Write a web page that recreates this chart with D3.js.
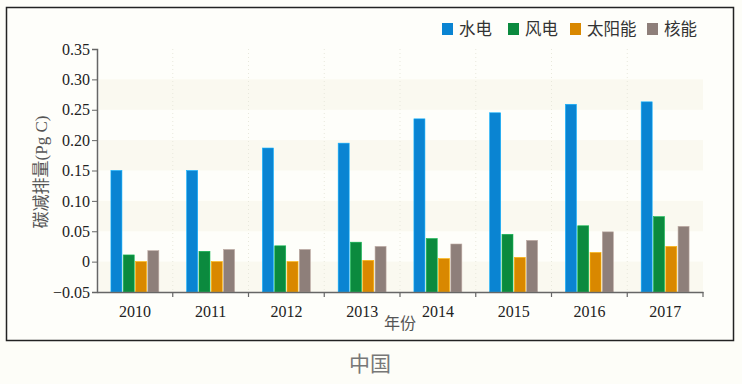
<!DOCTYPE html>
<html>
<head>
<meta charset="utf-8">
<script src="https://cdn.jsdelivr.net/npm/d3@7"></script>
<style>
  body { margin: 0; background: #fdfdf8; }
  svg { display: block; }
</style>
</head>
<body>
<div id="chart"></div>
<script>
// data
var years = ["2010", "2011", "2012", "2013", "2014", "2015", "2016", "2017"];
var seriesNames = ["水电", "风电", "太阳能", "核能"];
var hydro = [0.150, 0.150, 0.187, 0.195, 0.235, 0.245, 0.259, 0.263];
var wind = [0.011, 0.017, 0.026, 0.032, 0.038, 0.045, 0.059, 0.074];
var solar = [0.000, 0.000, 0.000, 0.002, 0.005, 0.007, 0.015, 0.025];
var nuclear = [0.018, 0.020, 0.020, 0.025, 0.029, 0.035, 0.049, 0.058];
var yTicks = [-0.05, 0, 0.05, 0.10, 0.15, 0.20, 0.25, 0.30, 0.35];
var colors = ["#0a84d2", "#0b8a3e", "#d98800", "#8e7f7a"];

var width = 742, height = 384;
var plotLeft = 97, plotRight = 703, plotTop = 49, plotBottom = 292;

var svg = d3.select("#chart").append("svg")
    .attr("width", width)
    .attr("height", height);

svg.append("rect")
    .attr("width", width).attr("height", height)
    .attr("fill", "#fdfdf8");

// outer frame
svg.append("rect")
    .attr("x", 6.5).attr("y", 7.5)
    .attr("width", 727).attr("height", 333)
    .attr("fill", "#fefefa")
    .attr("stroke", "#222")
    .attr("stroke-width", 1.5);

var x = d3.scaleBand()
    .domain(years)
    .range([plotLeft, plotRight])
    .paddingInner(0)
    .paddingOuter(0);

var y = d3.scaleLinear()
    .domain([-0.05, 0.35])
    .range([plotBottom, plotTop]);

// faint alternating bands
var bands = [[0.25, 0.30], [0.15, 0.20], [0.05, 0.10], [-0.05, 0]];
svg.selectAll("rect.band")
    .data(bands)
    .enter()
    .append("rect")
    .attr("class", "band")
    .attr("x", plotLeft + 2)
    .attr("width", plotRight - plotLeft - 2)
    .attr("y", function(d) { return y(d[1]); })
    .attr("height", function(d) { return y(d[0]) - y(d[1]); })
    .attr("fill", "#faf9f0");

// faint dotted vertical lines
svg.selectAll("line.vgrid")
    .data(years.slice(1))
    .enter()
    .append("line")
    .attr("class", "vgrid")
    .attr("x1", function(d) { return x(d); })
    .attr("x2", function(d) { return x(d); })
    .attr("y1", plotTop)
    .attr("y2", plotBottom)
    .attr("stroke", "#e8e8dc")
    .attr("stroke-dasharray", "1,3");

var series = [hydro, wind, solar, nuclear];
var barW = 11, gap = 1.3;
var groupW = barW * 4 + gap * 3;

series.forEach(function(vals, s) {
    svg.selectAll("rect.s" + s)
        .data(vals)
        .enter()
        .append("rect")
        .attr("class", "s" + s)
        .attr("x", function(d, i) {
            return x(years[i]) + x.bandwidth() / 2 - groupW / 2 + s * (barW + gap);
        })
        .attr("width", barW)
        .attr("y", function(d) { return y(d); })
        .attr("height", function(d) { return y(-0.05) - y(d); })
        .attr("fill", colors[s])
        .attr("stroke", d3.color(colors[s]).brighter(0.8))
        .attr("stroke-width", 0.6);
});

// y axis
var yAxis = svg.append("g")
    .attr("transform", "translate(" + plotLeft + ",0)")
    .call(d3.axisLeft(y)
        .tickValues(yTicks)
        .tickSize(5)
        .tickFormat(function(d) {
            if (d === 0) return "0";
            return (d < 0 ? "\u2212" : "") + Math.abs(d).toFixed(2);
        }));
yAxis.select(".domain").attr("stroke", "#666").attr("stroke-width", 1.5);
yAxis.selectAll(".tick line").attr("stroke", "#666");
yAxis.selectAll(".tick text")
    .attr("font-family", "Liberation Serif, serif")
    .attr("font-size", 16)
    .attr("fill", "#222")
    .attr("x", -7);

// x axis
var xAxis = svg.append("g")
    .attr("transform", "translate(0," + plotBottom + ")")
    .call(d3.axisBottom(x).tickSize(0).tickSizeOuter(0));
xAxis.select(".domain").attr("stroke", "#666").attr("stroke-width", 1.5);
xAxis.selectAll(".tick text")
    .attr("font-family", "Liberation Serif, serif")
    .attr("font-size", 16)
    .attr("fill", "#222")
    .attr("dy", "1.35em");

// tick marks at band boundaries
var bounds = years.slice(1).map(function(d) { return x(d); }).concat([plotRight]);
svg.selectAll("line.xtick")
    .data(bounds)
    .enter()
    .append("line")
    .attr("class", "xtick")
    .attr("x1", function(d) { return d; })
    .attr("x2", function(d) { return d; })
    .attr("y1", plotBottom)
    .attr("y2", plotBottom + 5)
    .attr("stroke", "#666")
    .attr("stroke-width", 1.2);

// axis titles
var ylab = svg.append("text")
    .attr("transform", "translate(47,172) rotate(-90)")
    .attr("text-anchor", "middle")
    .attr("font-size", 17)
    .attr("fill", "#555");
ylab.append("tspan")
    .attr("font-family", "Noto Sans CJK SC, sans-serif")
    .text("碳减排量");
ylab.append("tspan")
    .attr("font-family", "Liberation Serif, serif")
    .text("(Pg C)");

svg.append("text")
    .attr("x", 400)
    .attr("y", 329)
    .attr("text-anchor", "middle")
    .attr("font-family", "Noto Sans CJK SC, sans-serif")
    .attr("font-size", 16)
    .attr("fill", "#555")
    .text("年份");

// legend
var legendX = [442, 508, 570, 647];
var legend = svg.selectAll("g.legend")
    .data(seriesNames)
    .enter()
    .append("g")
    .attr("class", "legend")
    .attr("transform", function(d, i) { return "translate(" + legendX[i] + ",23)"; });
legend.append("rect")
    .attr("width", 11)
    .attr("height", 12)
    .attr("fill", function(d, i) { return colors[i]; });
legend.append("text")
    .attr("x", 17)
    .attr("y", 12)
    .attr("font-family", "Noto Sans CJK SC, sans-serif")
    .attr("font-size", 16.5)
    .attr("fill", "#333")
    .text(function(d) { return d; });

// caption
svg.append("text")
    .attr("x", 370)
    .attr("y", 371)
    .attr("text-anchor", "middle")
    .attr("font-family", "Noto Sans CJK SC, sans-serif")
    .attr("font-size", 21)
    .attr("fill", "#777")
    .text("中国");
</script>
</body>
</html>
